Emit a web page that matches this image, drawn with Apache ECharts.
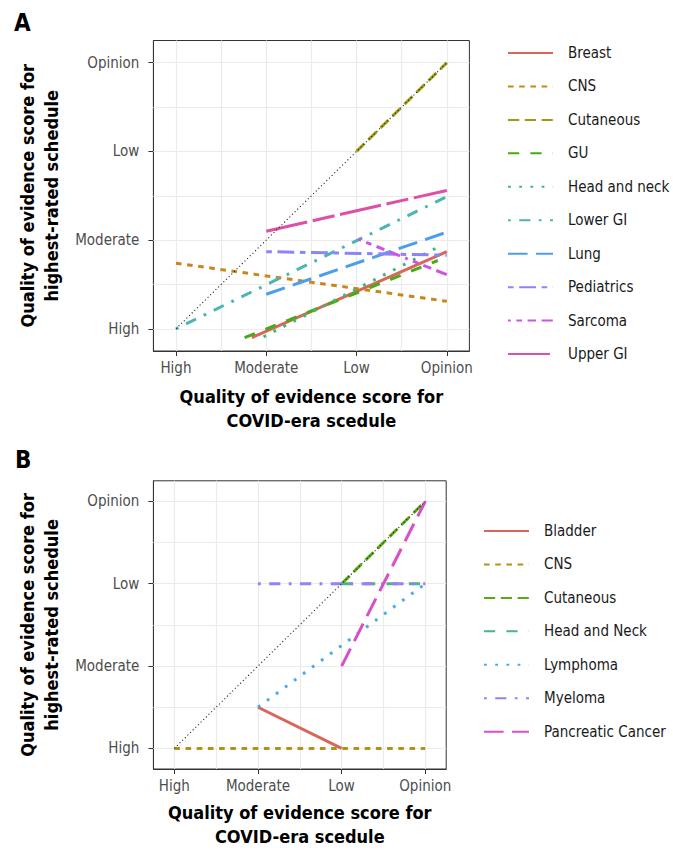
<!DOCTYPE html>
<html><head><meta charset="utf-8">
<script src="https://cdn.jsdelivr.net/npm/echarts@6/dist/echarts.min.js"></script>
<style>
html,body{margin:0;padding:0;background:#fff;width:673px;height:853px;overflow:hidden;}
#a{position:absolute;left:0;top:0;width:673px;height:437px;}
#b{position:absolute;left:0;top:437px;width:673px;height:416px;}
</style>
</head><body><div id="a"></div><div id="b"></div>
<script>
// ---------- data ----------
const qualityLevels = ['High', 'Moderate', 'Low', 'Opinion'];
const qualityTicks = [1, 2, 3, 4];
const gridValues = [1, 1.5, 2, 2.5, 3, 3.5, 4];
const xTitle = 'Quality of evidence score for\nCOVID-era scedule';
const yTitle = 'Quality of evidence score for\nhighest-rated schedule';
const identityLine = [[1, 1], [4, 4]];

// Panel A (x: COVID-era score, y: highest-rated score; 1=High .. 4=Opinion)
const namesA = ['Breast', 'CNS', 'Cutaneous', 'GU', 'Head and neck', 'Lower GI', 'Lung', 'Pediatrics', 'Sarcoma', 'Upper GI'];
const breastA = [[1.84, 0.90], [4, 1.87]];
const cnsA = [[1, 1.74], [4, 1.31]];
const cutaneousA = [[3, 3], [4, 4]];
const guA = [[1.76, 0.90], [3.90, 1.77]];
const headNeckA = [[1.97, 0.91], [3.92, 1.93]];
const lowerGiA = [[1, 1], [4, 2.49]];
const lungA = [[2, 1.39], [4, 2.09]];
const pediatricsA = [[2, 1.87], [4, 1.83]];
const sarcomaA = [[3.02, 2.01], [4, 1.61]];
const upperGiA = [[2, 2.10], [4, 2.56]];
const dataA = [breastA, cnsA, cutaneousA, guA, headNeckA, lowerGiA, lungA, pediatricsA, sarcomaA, upperGiA];

// Panel B
const namesB = ['Bladder', 'CNS', 'Cutaneous', 'Head and Neck', 'Lymphoma', 'Myeloma', 'Pancreatic Cancer'];
const bladderB = [[2, 1.5], [3, 1]];
const cnsB = [[1, 1], [4, 1]];
const cutaneousB = [[3, 3], [4, 4]];
const headNeckB = [[3, 3], [4, 3]];
const lymphomaB = [[2, 1.5], [4, 3]];
const myelomaB = [[2, 3], [4, 3]];
const pancreaticB = [[3, 2], [4, 4]];
const dataB = [bladderB, cnsB, cutaneousB, headNeckB, lymphomaB, myelomaB, pancreaticB];

// ---------- styles ----------
const FONT = '"DejaVu Sans Condensed", "DejaVu Sans", sans-serif';
const colorsA = ['#D9665A', '#C8871A', '#9C9C14', '#4AAA16', '#3DB878', '#4BB5B5', '#4C9EEC', '#8C84F8', '#CC55E8', '#DE4FA8'];
const colorsB = ['#D9665A', '#B39118', '#5AAA14', '#4DB385', '#4AAAE8', '#9B7EF8', '#D94FC8'];
const u = 2.8;
const lty = {
  solid: 'solid',
  '22': [2 * u, 2 * u],
  '42': [4 * u, 2 * u],
  '44': [4 * u, 4 * u],
  '13': [1 * u, 3 * u],
  '1343': [1 * u, 3 * u, 4 * u, 3 * u],
  '73': [7 * u, 3 * u],
  '2262': [2 * u, 2 * u, 6 * u, 2 * u],
  '12223242': [1 * u, 2 * u, 2 * u, 2 * u, 3 * u, 2 * u, 4 * u, 2 * u],
  'F282': [15 * u, 2 * u, 8 * u, 2 * u]
};
const ltyOrder = ['solid', '22', '42', '44', '13', '1343', '73', '2262', '12223242', 'F282'];

function isInt(v) { return Math.abs(v - Math.round(v)) < 1e-6; }

function makeAxis(isX, nameGap) {
  return {
    type: 'value', min: 0.75, max: 4.25, interval: 0.25,
    name: isX ? xTitle : yTitle,
    nameLocation: 'middle', nameGap: nameGap,
    nameTextStyle: { fontFamily: FONT, fontWeight: 'bold', fontSize: 18, color: '#000', lineHeight: 24 },
    axisLine: { show: true, lineStyle: { color: '#333', width: 1 } },
    axisTick: { show: true, length: 5, lineStyle: { color: '#333', width: 1 }, customValues: qualityTicks },
    axisLabel: {
      customValues: qualityTicks,
      formatter: function (v) { return isInt(v) ? (qualityLevels[Math.round(v) - 1] || '') : ''; },
      fontFamily: FONT, fontSize: 15, color: '#4D4D4D', margin: isX ? 9 : 14
    },
    splitLine: { show: false }
  };
}

function makeSeries(names, datas, colors) {
  const s = [{
    name: 'grid', type: 'line', data: [], symbol: 'none', silent: true, z: 1,
    markLine: {
      z: 1, silent: true, symbol: 'none', animation: false,
      label: { show: false },
      lineStyle: { color: '#EBEBEB', width: 1.2, type: 'solid' },
      emphasis: { disabled: true },
      data: gridValues.map(function (v) { return { xAxis: v }; })
        .concat(gridValues.map(function (v) { return { yAxis: v }; }))
    }
  }];
  names.forEach(function (n, i) {
    s.push({
      name: n, type: 'line', data: datas[i], symbol: 'none', silent: true, z: 3,
      lineStyle: { color: colors[i], width: 3, type: lty[ltyOrder[i]], cap: 'butt' },
      itemStyle: { color: colors[i] }
    });
  });
  s.push({
    name: 'identity', type: 'line', data: identityLine, symbol: 'none', silent: true, z: 4,
    lineStyle: { color: '#222', width: 1.1, type: [1.1, 2.6] }
  });
  return s;
}

function makeOption(opts) {
  return {
    animation: false,
    backgroundColor: '#fff',
    textStyle: { fontFamily: FONT },
    graphic: [{ type: 'text', left: opts.letterX, top: 11, style: { text: opts.letter, fontFamily: FONT, fontWeight: 'bold', fontSize: 24, fill: '#000' } }],
    grid: { left: 153.4, top: opts.top, width: opts.width, height: opts.height, show: true, borderColor: '#333', borderWidth: 1, backgroundColor: '#fff' },
    xAxis: makeAxis(true, opts.xGap),
    yAxis: makeAxis(false, 90),
    legend: {
      orient: 'vertical', left: opts.legendX, top: opts.legendTop, padding: 0,
      itemWidth: 45, itemHeight: 14, itemGap: 18.45, selectedMode: false,
      data: opts.names,
      itemStyle: { opacity: 0 },
      textStyle: { fontFamily: FONT, fontSize: 15, color: '#1A1A1A', padding: [0, 0, 0, 10] }
    },
    series: makeSeries(opts.names, opts.datas, opts.colors)
  };
}

const chartA = echarts.init(document.getElementById('a'), null, { renderer: 'svg' });
chartA.setOption(makeOption({
  letter: 'A', letterX: 14, top: 40.5, width: 316, height: 315, xGap: 33,
  legendX: 507, legendTop: 45.5, names: namesA, datas: dataA, colors: colorsA
}));

const chartB = echarts.init(document.getElementById('b'), null, { renderer: 'svg' });
chartB.setOption(makeOption({
  letter: 'B', letterX: 15, top: 43.8, width: 292.8, height: 292.4, xGap: 31,
  legendX: 483, legendTop: 86.5, names: namesB, datas: dataB, colors: colorsB
}));
</script>
</body></html>
